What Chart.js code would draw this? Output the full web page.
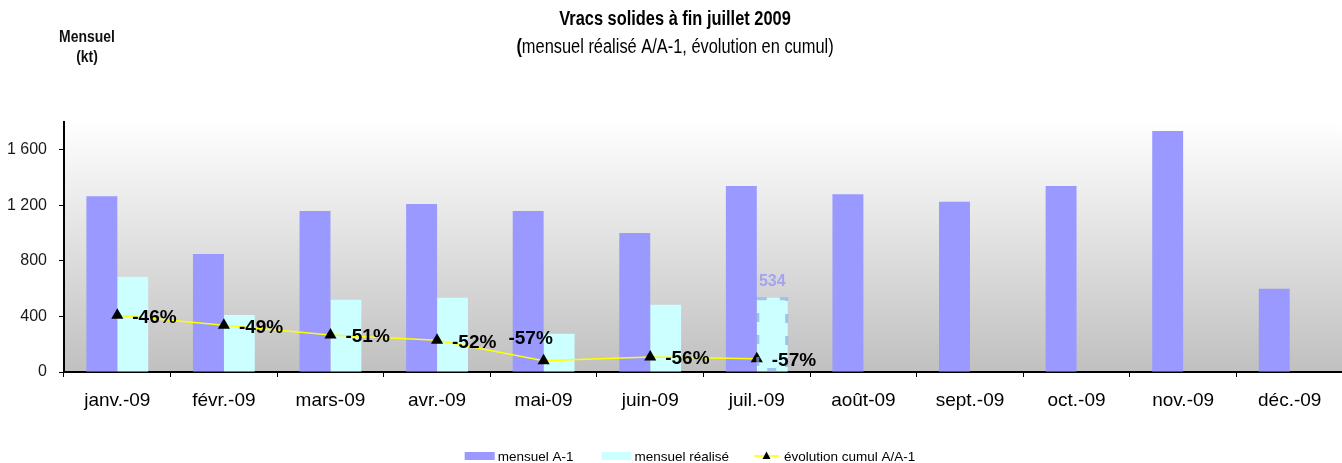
<!DOCTYPE html>
<html><head><meta charset="utf-8">
<script src="https://cdn.jsdelivr.net/npm/chart.js@4/dist/chart.umd.min.js"></script>
<style>html,body{margin:0;padding:0;overflow:hidden;background:#fff}
#wrap{position:relative;width:1350px;height:463px}</style></head>
<body><div id="wrap"><canvas id="c" width="1350" height="463"></canvas></div>
<script>
const categories = ['janv.-09','févr.-09','mars-09','avr.-09','mai-09','juin-09','juil.-09','août-09','sept.-09','oct.-09','nov.-09','déc.-09'];
const mensuelA1 = [1265, 850, 1160, 1210, 1160, 1000, 1340, 1280, 1225, 1340, 1735, 600];
const mensuelRealise = [685, 410, 520, 535, 275, 485, 534, null, null, null, null, null];
const evolutionCumul = [-46.4, -48.8, -51.1, -52.4, -57.3, -56.4, -56.8, null, null, null, null, null];
const yTicks = [0, 400, 800, 1200, 1600];
const seriesNames = ['mensuel A-1', 'mensuel réalisé', 'évolution cumul A/A-1'];
const titleText = 'Vracs solides à fin juillet 2009';
const subtitleText = 'mensuel réalisé A/A-1, évolution en cumul)';
const unitText = ['Mensuel', '(kt)'];
const highlightIndex = 6;

function hasFont(name){
  const c = document.createElement('canvas').getContext('2d');
  const s = 'mensuel réalisé 1600 WMW';
  c.font = '40px monospace'; const a = c.measureText(s).width;
  c.font = '40px "' + name + '", monospace'; const b = c.measureText(s).width;
  return Math.abs(a-b) > 0.5;
}
const NARROW = hasFont('Liberation Sans Narrow');
const REG = "'Liberation Sans', Arial, sans-serif";
const NAR = "'Liberation Sans Narrow', 'Arial Narrow', sans-serif";

function narrowText(ctx, text, x, y, size, weight, align){
  ctx.save();
  ctx.textBaseline = 'middle';
  if (NARROW){
    ctx.font = weight + ' ' + size + 'px ' + NAR;
    ctx.textAlign = align;
    ctx.fillText(text, x, y);
  } else {
    ctx.font = weight + ' ' + size + 'px ' + REG;
    ctx.translate(x, y); ctx.scale(0.82, 1);
    ctx.textAlign = align;
    ctx.fillText(text, 0, 0);
  }
  ctx.restore();
}
function narrowWidth(ctx, text, size, weight){
  ctx.save();
  let w;
  if (NARROW){ ctx.font = weight+' '+size+'px '+NAR; w = ctx.measureText(text).width; }
  else { ctx.font = weight+' '+size+'px '+REG; w = ctx.measureText(text).width*0.82; }
  ctx.restore(); return w;
}

const bgPlugin = {
  id: 'bg',
  beforeDraw(chart){
    const {ctx, chartArea:a} = chart;
    const g = ctx.createLinearGradient(0, a.top, 0, a.bottom);
    g.addColorStop(0, '#FFFFFF');
    g.addColorStop(1, '#C0C0C0');
    ctx.save(); ctx.fillStyle = g;
    ctx.fillRect(a.left, a.top, a.right - a.left, a.bottom - a.top);
    ctx.restore();
  }
};

const textPlugin = {
  id: 'texts',
  afterDraw(chart){
    const ctx = chart.ctx;
    ctx.save();
    ctx.fillStyle = '#000';
    narrowText(ctx, titleText, 675, 19, 20, 'bold', 'center');
    const wp = narrowWidth(ctx, '(', 20, 'bold');
    const ws = narrowWidth(ctx, subtitleText, 20, 'normal');
    const x0 = 675 - (wp + ws)/2;
    narrowText(ctx, '(', x0, 47, 20, 'bold', 'left');
    narrowText(ctx, subtitleText, x0 + wp, 47, 20, 'normal', 'left');
    ctx.fillStyle = '#111';
    narrowText(ctx, unitText[0], 87, 37, 17, 'bold', 'center');
    narrowText(ctx, unitText[1], 87, 57, 17, 'bold', 'center');

    ctx.fillStyle = '#000';
    ctx.font = '13.5px ' + REG;
    ctx.textBaseline = 'middle'; ctx.textAlign = 'left';
    const ds = chart.data.datasets;
    const items = [
      {kind:'box', color: ds[0].backgroundColor, label: ds[0].label, gapAfter: 28},
      {kind:'box', color: ds[1].backgroundColor, label: ds[1].label, gapAfter: 25},
      {kind:'line', color: ds[2].borderColor, label: ds[2].label, gapAfter: 0}
    ];
    let total = 0;
    items.forEach(it => { it.tw = ctx.measureText(it.label).width; it.w = (it.kind==='box'?33:30) + it.tw; total += it.w + it.gapAfter; });
    let x = 690 - total/2;
    const ly = 456;
    items.forEach(it => {
      if (it.kind === 'box'){
        ctx.fillStyle = it.color; ctx.fillRect(x, ly-4, 30, 8);
        ctx.fillStyle = '#000'; ctx.fillText(it.label, x+33, ly+1);
      } else {
        ctx.strokeStyle = it.color; ctx.lineWidth = 1.5;
        ctx.beginPath(); ctx.moveTo(x, ly); ctx.lineTo(x+25, ly); ctx.stroke();
        ctx.fillStyle = '#000';
        ctx.beginPath(); ctx.moveTo(x+12.5, ly-4.5); ctx.lineTo(x+16.5, ly+3); ctx.lineTo(x+8.5, ly+3); ctx.closePath(); ctx.fill();
        ctx.fillText(it.label, x+30, ly+1);
      }
      x += it.w + it.gapAfter;
    });
    ctx.restore();
  }
};

const labelPlugin = {
  id: 'pctLabels',
  afterDatasetsDraw(chart){
    const ctx = chart.ctx;
    ctx.save();
    const bar = chart.getDatasetMeta(1).data[highlightIndex];
    if (bar){
      const w = bar.width;
      ctx.strokeStyle = 'rgba(140,170,225,0.7)';
      ctx.lineWidth = 3;
      ctx.setLineDash([9, 13]);
      ctx.strokeRect(bar.x - w/2 + 1, bar.y + 1, w - 2, bar.base - bar.y - 3);
      ctx.setLineDash([]);
      ctx.fillStyle = '#A3A3F2';
      ctx.font = 'bold 16px ' + REG;
      ctx.textAlign = 'center'; ctx.textBaseline = 'middle';
      ctx.fillText(String(mensuelRealise[highlightIndex]), bar.x, bar.y - 16);
    }
    const meta = chart.getDatasetMeta(2);
    ctx.fillStyle = '#000';
    ctx.font = 'bold 19px ' + REG;
    ctx.textBaseline = 'middle';
    meta.data.forEach((pt, i) => {
      const v = evolutionCumul[i];
      if (v === null || v === undefined) return;
      const txt = Math.round(v) + '%';
      if (i === 4){
        ctx.textAlign = 'center';
        ctx.fillText(txt, pt.x - 13, pt.y - 22);
      } else {
        ctx.textAlign = 'left';
        ctx.fillText(txt, pt.x + 15, pt.y + 2);
      }
    });
    ctx.restore();
  }
};

function fmt(v){
  if (v >= 1000) return Math.floor(v/1000) + ' ' + String(v % 1000).padStart(3, '0');
  return String(v);
}

new Chart(document.getElementById('c'), {
  type: 'bar',
  data: {
    labels: categories,
    datasets: [
      {label: seriesNames[0], data: mensuelA1, backgroundColor: '#9999FF', order: 1, yAxisID: 'y',
       barPercentage: 1.0, categoryPercentage: 0.58},
      {label: seriesNames[1], data: mensuelRealise, backgroundColor: '#CCFFFF', order: 1, yAxisID: 'y',
       barPercentage: 1.0, categoryPercentage: 0.58},
      {type: 'line', label: seriesNames[2], data: evolutionCumul, yAxisID: 'y2', order: 0,
       borderColor: '#FFFF00', borderWidth: 1.5, pointStyle: 'triangle', pointRadius: 7,
       pointBackgroundColor: '#000', pointBorderColor: '#000', pointBorderWidth: 0, tension: 0, spanGaps: false}
    ]
  },
  options: {
    responsive: false,
    animation: false,
    layout: {padding: {top: 122, left: 0, right: 2, bottom: 0}},
    plugins: {legend: {display: false}, title: {display: false}, tooltip: {enabled: false}},
    scales: {
      x: {
        grid: {display: true, drawOnChartArea: false, tickLength: 5, color: '#000', lineWidth: 1, offset: true},
        border: {display: true, color: '#000', width: 2},
        ticks: {color: '#000', font: {family: REG, size: 19}, padding: 12, maxRotation: 0, autoSkip: false},
        afterFit(s){ s.height = 91; }
      },
      y: {
        min: 0, max: 1800,
        afterBuildTicks(s){ s.ticks = yTicks.map(v => ({value: v})); },
        grid: {display: true, drawOnChartArea: false, tickLength: 5, color: '#000', lineWidth: 1},
        border: {display: true, color: '#000', width: 2},
        ticks: {color: '#1a1a1a', font: NARROW ? {family: NAR, size: 20} : {family: REG, size: 16}, padding: 12,
                callback: v => fmt(v)},
        afterFit(s){ s.width = 64; }
      },
      y2: {min: -60, max: 0, display: false, position: 'right'}
    }
  },
  plugins: [bgPlugin, labelPlugin, textPlugin]
});
</script>
</body></html>
